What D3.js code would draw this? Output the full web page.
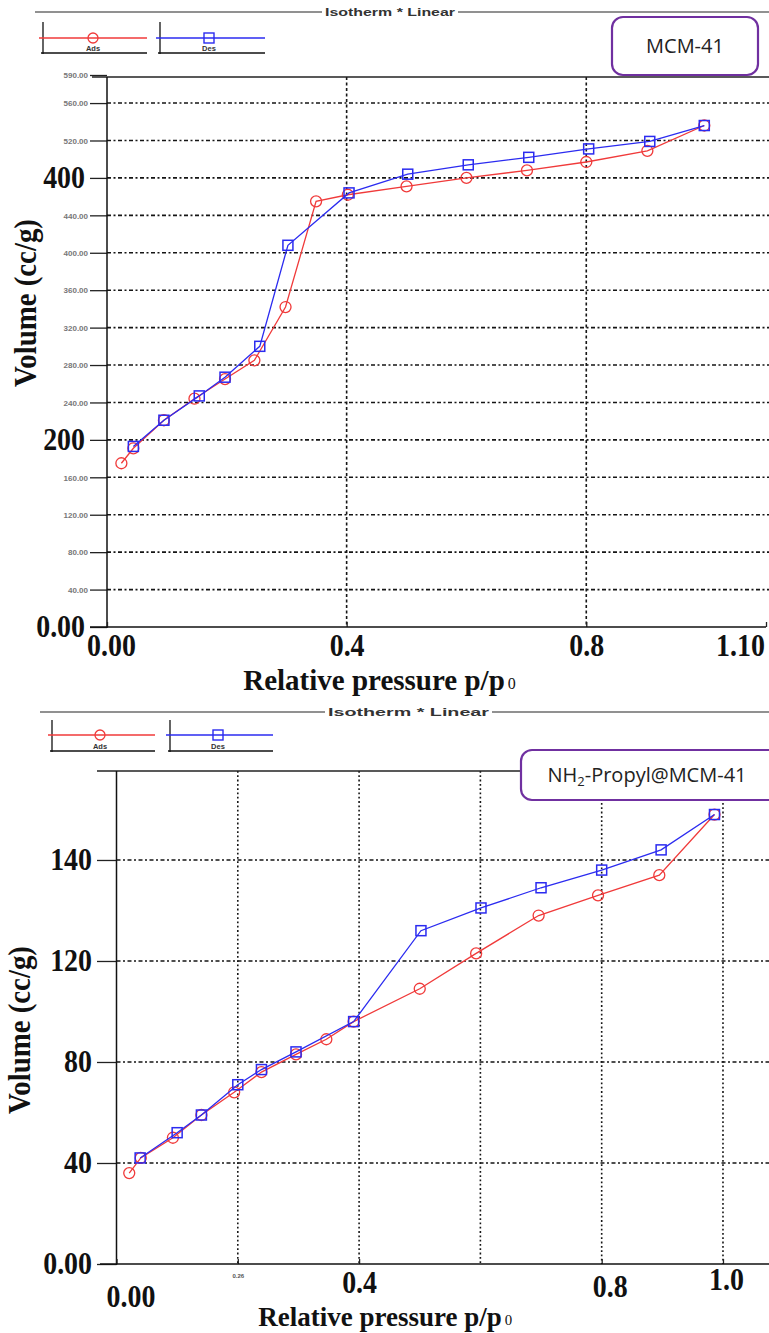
<!DOCTYPE html>
<html><head><meta charset="utf-8">
<script src="https://cdn.jsdelivr.net/npm/d3@7"></script>
<style>body{margin:0;background:#fff}</style>
</head><body>
<svg id="c" width="769" height="1333" xmlns="http://www.w3.org/2000/svg"></svg>
<script>
// ---------- DATA ----------
// MCM-41
const mcmAdsP = [0.024,0.044,0.095,0.146,0.197,0.246,0.298,0.349,0.402,0.500,0.600,0.701,0.800,0.902,0.997];
const mcmAdsV = [175,191,221,244,265,285,342,455,462,471,480,488,497,509,536];
const mcmDesP = [0.044,0.095,0.154,0.197,0.255,0.302,0.404,0.502,0.603,0.704,0.804,0.906,0.997];
const mcmDesV = [193,221,247,267,300,408,464,484,494,502,511,519,536];
const mcmYTicks = [0,40,80,120,160,200,240,280,320,360,400,440,480,520,560,590];
const mcmYLabels = ["0.00","40.00","80.00","120.00","160.00","200","240.00","280.00","320.00","360.00","400.00","440.00","400","520.00","560.00","590.00"];
const mcmYBig = [0,200,480];
const mcmXTicks = [0,0.4,0.8,1.1];
const mcmXLabels = ["0.00","0.4","0.8","1.10"];
const mcmXGrid = [0.4,0.8];

// NH2-Propyl@MCM-41
const nh2AdsP = [0.021,0.040,0.093,0.140,0.194,0.239,0.296,0.346,0.391,0.500,0.593,0.696,0.794,0.895,0.986];
const nh2AdsV = [36,42,50,59,68,76,83,89,96,109,123,138,146,154,178];
const nh2DesP = [0.039,0.100,0.140,0.200,0.239,0.296,0.391,0.502,0.601,0.700,0.800,0.898,0.986];
const nh2DesV = [42,52,59,71,77,84,96,132,141,149,156,164,178];
const nh2YTicks = [0,40,80,120,160];
const nh2YLabels = ["0.00","40","80","120","140"];
const nh2XTicks = [0,0.2,0.4,0.8,1.0];
const nh2XLabels = ["0.00","0.26","0.4","0.8","1.0"];
const nh2XGrid = [0.2,0.4,0.6,0.8,1.0];

const legendLabels = ["Ads","Des"];
const headerText = "Isotherm *  Linear";

// ---------- DRAW ----------
const svg = d3.select("#c");
const SERIF = "'Liberation Serif','Times New Roman',serif";
const SANS = "'Liberation Sans',Arial,sans-serif";
const RED = "#f03a3a", BLUE = "#2b2bf0";
const BIG = 31, SQUEEZE = 0.9;

function condense(sel, f) {
  sel.each(function () {
    const len = this.getComputedTextLength();
    d3.select(this).attr("textLength", len * f).attr("lengthAdjust", "spacingAndGlyphs");
  });
}

function panel(cfg) {
  const g = svg.append("g");
  const x = d3.scaleLinear().domain(cfg.xDomain).range(cfg.xRange);
  const y = d3.scaleLinear().domain(cfg.yDomain).range(cfg.yRange);
  const x0 = cfg.xRange[0], y0 = cfg.yRange[0];

  // header line + text
  g.append("line").attr("x1", cfg.hdr.x1).attr("x2", cfg.hdr.t1).attr("y1", cfg.hdr.y).attr("y2", cfg.hdr.y)
    .attr("stroke", "#6d6d6d").attr("stroke-width", 1.6);
  g.append("line").attr("x1", cfg.hdr.t2).attr("x2", 769).attr("y1", cfg.hdr.y).attr("y2", cfg.hdr.y)
    .attr("stroke", "#6d6d6d").attr("stroke-width", 1.6);
  g.append("text").attr("x", (cfg.hdr.t1 + cfg.hdr.t2) / 2).attr("y", cfg.hdr.y + 4)
    .attr("text-anchor", "middle").attr("font-family", SANS).attr("font-weight", "bold")
    .attr("font-size", 11).attr("fill", "#333").attr("textLength", cfg.hdr.t2 - cfg.hdr.t1 - 6)
    .attr("lengthAdjust", "spacingAndGlyphs").text(headerText);

  // legend
  cfg.leg.forEach((L, i) => {
    const lg = g.append("g");
    lg.append("line").attr("x1", L.vx).attr("x2", L.vx).attr("y1", L.top).attr("y2", L.bot + 1).attr("stroke", "#111").attr("stroke-width", 1.3);
    lg.append("line").attr("x1", L.vx - 2).attr("x2", L.x2).attr("y1", L.bot).attr("y2", L.bot).attr("stroke", "#111").attr("stroke-width", 1.3);
    lg.append("line").attr("x1", L.vx - 4).attr("x2", L.x2).attr("y1", L.ly).attr("y2", L.ly)
      .attr("stroke", i === 0 ? RED : BLUE).attr("stroke-width", 1.3);
    if (i === 0) lg.append("circle").attr("cx", L.mx).attr("cy", L.ly).attr("r", 5).attr("fill", "none").attr("stroke", RED).attr("stroke-width", 1.3);
    else lg.append("rect").attr("x", L.mx - 5).attr("y", L.ly - 5).attr("width", 10).attr("height", 10).attr("fill", "none").attr("stroke", BLUE).attr("stroke-width", 1.4);
    lg.append("text").attr("x", L.mx).attr("y", L.bot - 2).attr("text-anchor", "middle").attr("font-family", SANS)
      .attr("font-weight", "bold").attr("font-size", 7.5).attr("fill", "#333").text(legendLabels[i]);
  });

  // horizontal grid
  g.append("g").selectAll("line").data(cfg.hGrid).join("line")
    .attr("x1", x0).attr("x2", 769).attr("y1", d => y(d)).attr("y2", d => y(d))
    .attr("stroke", "#151515").attr("stroke-width", 1.6).attr("stroke-dasharray", "4,2.5,2,2.5");
  // vertical grid
  g.append("g").selectAll("line").data(cfg.vGrid).join("line")
    .attr("x1", d => x(d)).attr("x2", d => x(d)).attr("y1", d => cfg.vGridTop(d)).attr("y2", y0)
    .attr("stroke", "#151515").attr("stroke-width", 1.6).attr("stroke-dasharray", cfg.vDash);

  // frame top
  g.append("line").attr("x1", cfg.frameX1).attr("x2", 769).attr("y1", cfg.frameTop).attr("y2", cfg.frameTop)
    .attr("stroke", "#222").attr("stroke-width", 1.3);

  // y axis
  const ya = d3.axisLeft(y).tickValues(cfg.yTicks).tickFormat((d, i) => cfg.yLabels[i])
    .tickSize(cfg.yTickLen).tickPadding(4);
  const yg = g.append("g").attr("transform", `translate(${x0},0)`).call(ya);
  yg.select(".domain").remove();
  yg.selectAll(".tick line").attr("stroke", "#222").attr("stroke-width", 1.3);
  yg.selectAll(".tick text").each(function (d) {
    const t = d3.select(this);
    if (cfg.yBig.includes(d)) {
      t.attr("font-family", SERIF).attr("font-weight", "bold").attr("font-size", BIG).attr("fill", "#111")
        .attr("x", -cfg.yTickLen - 5).attr("dy", "0.3em").classed("big", true);
    } else {
      t.attr("font-family", SANS).attr("font-weight", "bold").attr("font-size", 8).attr("fill", "#777")
        .attr("x", -cfg.yTickLen - 2).attr("dy", "0.35em");
    }
  });
  condense(yg.selectAll("text.big"), SQUEEZE);
  g.append("line").attr("x1", x0).attr("x2", x0).attr("y1", cfg.frameTop).attr("y2", y0 + 1)
    .attr("stroke", "#111").attr("stroke-width", 1.5);

  // x axis
  const xa = d3.axisBottom(x).tickValues(cfg.xTicks).tickFormat((d, i) => cfg.xLabels[i]).tickSize(-5);
  const xg = g.append("g").attr("transform", `translate(0,${y0})`).call(xa);
  xg.select(".domain").remove();
  xg.selectAll(".tick line").attr("stroke", "#222").attr("stroke-width", 1.3);
  xg.selectAll(".tick text").each(function (d, i) {
    const t = d3.select(this);
    const o = cfg.xLabOff[i];
    const small = cfg.xLabels[i] === "0.26";
    t.attr("font-family", small ? SANS : SERIF).attr("font-weight", "bold")
      .attr("font-size", small ? 6 : BIG).attr("fill", small ? "#555" : "#111")
      .attr("x", o[0]).attr("y", o[1]).attr("dy", null).classed("big", !small);
  });
  condense(xg.selectAll("text.big"), SQUEEZE);
  g.append("line").attr("x1", cfg.xAxisX1).attr("x2", cfg.xRange[1]).attr("y1", y0).attr("y2", y0)
    .attr("stroke", "#111").attr("stroke-width", 1.5);

  // titles
  const xt = g.append("text").attr("x", cfg.xTitle[0]).attr("y", cfg.xTitle[1]).attr("text-anchor", "middle")
    .attr("font-family", SERIF).attr("font-weight", "bold").attr("font-size", cfg.titleSize).attr("fill", "#111")
    .text("Relative pressure p/p");
  const bb = xt.node().getBBox();
  g.append("text").attr("x", bb.x + bb.width + 3).attr("y", cfg.xTitle[1] - 1)
    .attr("font-family", SERIF).attr("font-size", cfg.titleSize * 0.55).attr("fill", "#111").text("0");
  const yt = g.append("text").attr("transform", `translate(${cfg.yTitle[0]},${cfg.yTitle[1]}) rotate(-90)`)
    .attr("text-anchor", "middle").attr("font-family", SERIF).attr("font-weight", "bold")
    .attr("font-size", BIG).attr("fill", "#111").text("Volume (cc/g)");
  condense(yt, 0.93);

  // series
  const line = d3.line().x(d => x(d[0])).y(d => y(d[1]));
  const ads = cfg.adsP.map((p, i) => [p, cfg.adsV[i]]);
  const des = cfg.desP.map((p, i) => [p, cfg.desV[i]]);
  g.append("path").datum(ads).attr("d", line).attr("fill", "none").attr("stroke", RED).attr("stroke-width", 1.3);
  g.append("g").selectAll("circle").data(ads).join("circle")
    .attr("cx", d => x(d[0])).attr("cy", d => y(d[1])).attr("r", 5.5)
    .attr("fill", "none").attr("stroke", RED).attr("stroke-width", 1.3);
  g.append("path").datum(des).attr("d", line).attr("fill", "none").attr("stroke", BLUE).attr("stroke-width", 1.3);
  g.append("g").selectAll("rect").data(des).join("rect")
    .attr("x", d => x(d[0]) - 5).attr("y", d => y(d[1]) - 5).attr("width", 10).attr("height", 10)
    .attr("fill", "none").attr("stroke", BLUE).attr("stroke-width", 1.5);

  // sample label box
  g.append("rect").attr("x", cfg.box.x).attr("y", cfg.box.y).attr("width", cfg.box.w).attr("height", cfg.box.h)
    .attr("rx", 11).attr("fill", "#fff").attr("stroke", "#7030a0").attr("stroke-width", 2.2);
  const bt = g.append("text").attr("x", cfg.box.tx).attr("y", cfg.box.ty).attr("text-anchor", "middle")
    .attr("font-family", "'Open Sans',sans-serif").attr("font-size", cfg.box.fs).attr("fill", "#222");
  cfg.box.parts.forEach(p => {
    const s = bt.append("tspan").text(p.t);
    if (p.sub) s.attr("font-size", cfg.box.fs * 0.65).attr("dy", 4);
    if (p.after) s.attr("dy", -4);
  });
}

panel({
  xDomain: [0, 1.1], xRange: [107, 766],
  yDomain: [0, 590], yRange: [627, 75],
  hdr: { y: 12, x1: 35, t1: 322, t2: 458 },
  leg: [
    { vx: 43, top: 22, bot: 53, x2: 147, ly: 38, mx: 93 },
    { vx: 160, top: 22, bot: 53, x2: 265, ly: 38, mx: 209 }
  ],
  hGrid: mcmYTicks.filter(d => d > 0 && d < 590),
  vGrid: mcmXGrid, vGridTop: () => 77, vDash: "3,2.5",
  frameTop: 77, frameX1: 92,
  yTicks: mcmYTicks, yLabels: mcmYLabels, yBig: mcmYBig, yTickLen: 17,
  xTicks: mcmXTicks, xLabels: mcmXLabels,
  xLabOff: [[4, 29], [0, 29], [0, 29], [-26, 29]],
  xAxisX1: 90,
  xTitle: [374, 690], titleSize: 29, yTitle: [36, 303],
  adsP: mcmAdsP, adsV: mcmAdsV, desP: mcmDesP, desV: mcmDesV,
  box: { x: 612, y: 17, w: 146, h: 58, tx: 685, ty: 53, fs: 20, parts: [{ t: "MCM-41" }] }
});

panel({
  xDomain: [0, 1.08], xRange: [116.5, 771.5],
  yDomain: [0, 195], yRange: [1264, 771.6],
  hdr: { y: 712, x1: 40, t1: 325, t2: 492 },
  leg: [
    { vx: 52, top: 720, bot: 751, x2: 155, ly: 735, mx: 100 },
    { vx: 170, top: 720, bot: 751, x2: 273, ly: 735, mx: 218 }
  ],
  hGrid: nh2YTicks.filter(d => d > 0),
  vGrid: nh2XGrid, vGridTop: d => (d >= 0.7 ? 803 : 771), vDash: "1.8,2.5",
  frameTop: 771, frameX1: 97,
  yTicks: nh2YTicks, yLabels: nh2YLabels, yBig: nh2YTicks, yTickLen: 19.5,
  xTicks: nh2XTicks, xLabels: nh2XLabels,
  xLabOff: [[14, 43], [0, 14], [0, 29], [8, 33], [3, 26]],
  xAxisX1: 100,
  xTitle: [380, 1326], titleSize: 27, yTitle: [30, 1030],
  adsP: nh2AdsP, adsV: nh2AdsV, desP: nh2DesP, desV: nh2DesV,
  box: { x: 521, y: 750, w: 262, h: 50, tx: 647, ty: 782, fs: 20,
    parts: [{ t: "NH" }, { t: "2", sub: true }, { t: "-Propyl@MCM-41", after: true }] }
});
</script>
</body></html>
